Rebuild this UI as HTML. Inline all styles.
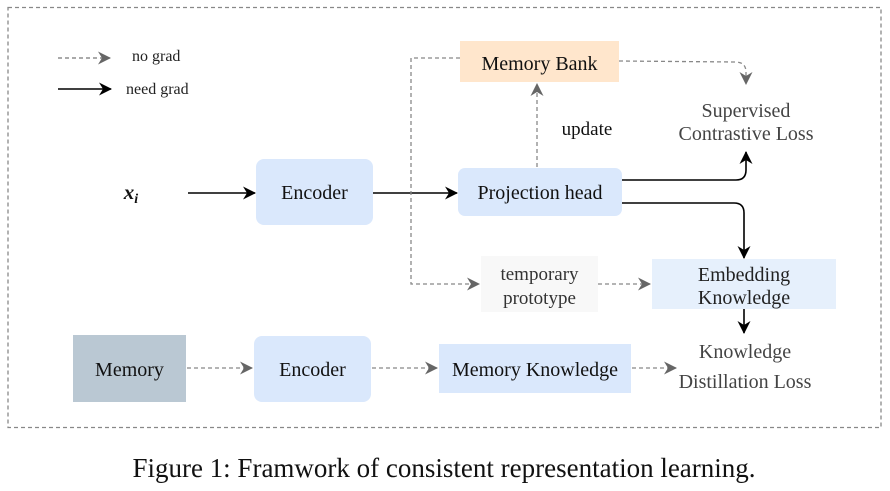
<!DOCTYPE html>
<html><head><meta charset="utf-8"><style>
html,body{margin:0;padding:0;background:#fff;}
svg{display:block;}
text{font-family:"Liberation Serif",serif;}
</style></head><body>
<svg width="890" height="491" viewBox="0 0 890 491" xmlns="http://www.w3.org/2000/svg">
<defs>
<marker id="ab" markerWidth="14" markerHeight="14" refX="12" refY="6.5" orient="auto" markerUnits="userSpaceOnUse"><path d="M0,0 L13,6.5 L0,13 L4,6.5 z" fill="#000"/></marker>
<marker id="ag" markerWidth="14" markerHeight="14" refX="12" refY="6.5" orient="auto" markerUnits="userSpaceOnUse"><path d="M0,0 L13,6.5 L0,13 L4,6.5 z" fill="#666"/></marker>
</defs>
<rect x="8" y="7.5" width="873" height="420" fill="none" stroke="#888" stroke-width="1.3" stroke-dasharray="4,3"/>
<!-- legend -->
<line x1="58" y1="58" x2="110" y2="58" stroke="#777" stroke-width="1.3" stroke-dasharray="4,3" marker-end="url(#ag)"/>
<text x="132" y="61" font-size="16" fill="#222">no grad</text>
<line x1="58" y1="89" x2="111" y2="89" stroke="#000" stroke-width="1.6" marker-end="url(#ab)"/>
<text x="126" y="94" font-size="16" fill="#222">need grad</text>
<!-- boxes -->
<rect x="460" y="41" width="159" height="41" fill="#ffe6cc"/>
<text x="539.5" y="70" font-size="20" text-anchor="middle" fill="#111">Memory Bank</text>
<rect x="256" y="159" width="117" height="66" rx="8" fill="#dae8fc"/>
<text x="314.5" y="199" font-size="20" text-anchor="middle" fill="#111">Encoder</text>
<rect x="458" y="168" width="164" height="48" rx="7" fill="#dae8fc"/>
<text x="540" y="199" font-size="20" text-anchor="middle" fill="#111">Projection head</text>
<rect x="481" y="256" width="117" height="56" fill="#f8f8f8"/>
<text x="539.5" y="280" font-size="19" text-anchor="middle" fill="#333">temporary</text>
<text x="539.5" y="304" font-size="19" text-anchor="middle" fill="#333">prototype</text>
<rect x="652" y="259" width="184" height="50" fill="#e6f0fc"/>
<text x="744" y="281" font-size="20" text-anchor="middle" fill="#222">Embedding</text>
<text x="744" y="304" font-size="20" text-anchor="middle" fill="#222">Knowledge</text>
<rect x="73" y="335" width="113" height="67" fill="#bac8d3"/>
<text x="129.5" y="376" font-size="20" text-anchor="middle" fill="#111">Memory</text>
<rect x="254" y="336" width="117" height="66" rx="8" fill="#dae8fc"/>
<text x="312.5" y="376" font-size="20" text-anchor="middle" fill="#111">Encoder</text>
<rect x="439" y="344" width="192" height="49" fill="#dae8fc"/>
<text x="535" y="376" font-size="20" text-anchor="middle" fill="#111">Memory Knowledge</text>
<!-- labels -->
<text x="131" y="199" font-size="21" font-style="italic" font-weight="bold" text-anchor="middle" fill="#111">x<tspan font-size="14" dy="4">i</tspan></text>
<text x="587" y="135" font-size="19" text-anchor="middle" fill="#111">update</text>
<text x="746" y="117" font-size="20" text-anchor="middle" fill="#444">Supervised</text>
<text x="746" y="140" font-size="20" text-anchor="middle" fill="#444">Contrastive Loss</text>
<text x="745" y="358" font-size="20" text-anchor="middle" fill="#444">Knowledge</text>
<text x="745" y="388" font-size="20" text-anchor="middle" fill="#444">Distillation Loss</text>
<!-- connectors -->
<line x1="188" y1="193" x2="255" y2="193" stroke="#000" stroke-width="1.6" marker-end="url(#ab)"/>
<line x1="373" y1="193" x2="457" y2="193" stroke="#000" stroke-width="1.6" marker-end="url(#ab)"/>
<path d="M460,58 L411,58 L411,284 L479,284" fill="none" stroke="#888" stroke-width="1.3" stroke-dasharray="4,3" marker-end="url(#ag)"/>
<path d="M619,61 L735,62 Q746,62 746,72 L746,84" fill="none" stroke="#888" stroke-width="1.3" stroke-dasharray="4,3" marker-end="url(#ag)"/>
<line x1="537" y1="167" x2="537" y2="84" stroke="#888" stroke-width="1.3" stroke-dasharray="4,3" marker-end="url(#ag)"/>
<path d="M622,180 L736,180 Q746,180 746,170 L746,152" fill="none" stroke="#000" stroke-width="1.6" marker-end="url(#ab)"/>
<path d="M622,203 L734,203 Q744,203 744,213 L744,258" fill="none" stroke="#000" stroke-width="1.6" marker-end="url(#ab)"/>
<line x1="744" y1="309" x2="744" y2="333" stroke="#000" stroke-width="1.6" marker-end="url(#ab)"/>
<line x1="598" y1="284" x2="650" y2="284" stroke="#888" stroke-width="1.3" stroke-dasharray="4,3" marker-end="url(#ag)"/>
<line x1="187" y1="368" x2="252" y2="368" stroke="#888" stroke-width="1.3" stroke-dasharray="4,3" marker-end="url(#ag)"/>
<line x1="372" y1="368" x2="437" y2="368" stroke="#888" stroke-width="1.3" stroke-dasharray="4,3" marker-end="url(#ag)"/>
<line x1="632" y1="368" x2="676" y2="368" stroke="#888" stroke-width="1.3" stroke-dasharray="4,3" marker-end="url(#ag)"/>
<!-- caption -->
<text x="444" y="477" font-size="27" text-anchor="middle" fill="#111">Figure 1: Framwork of consistent representation learning.</text>
</svg>
</body></html>
